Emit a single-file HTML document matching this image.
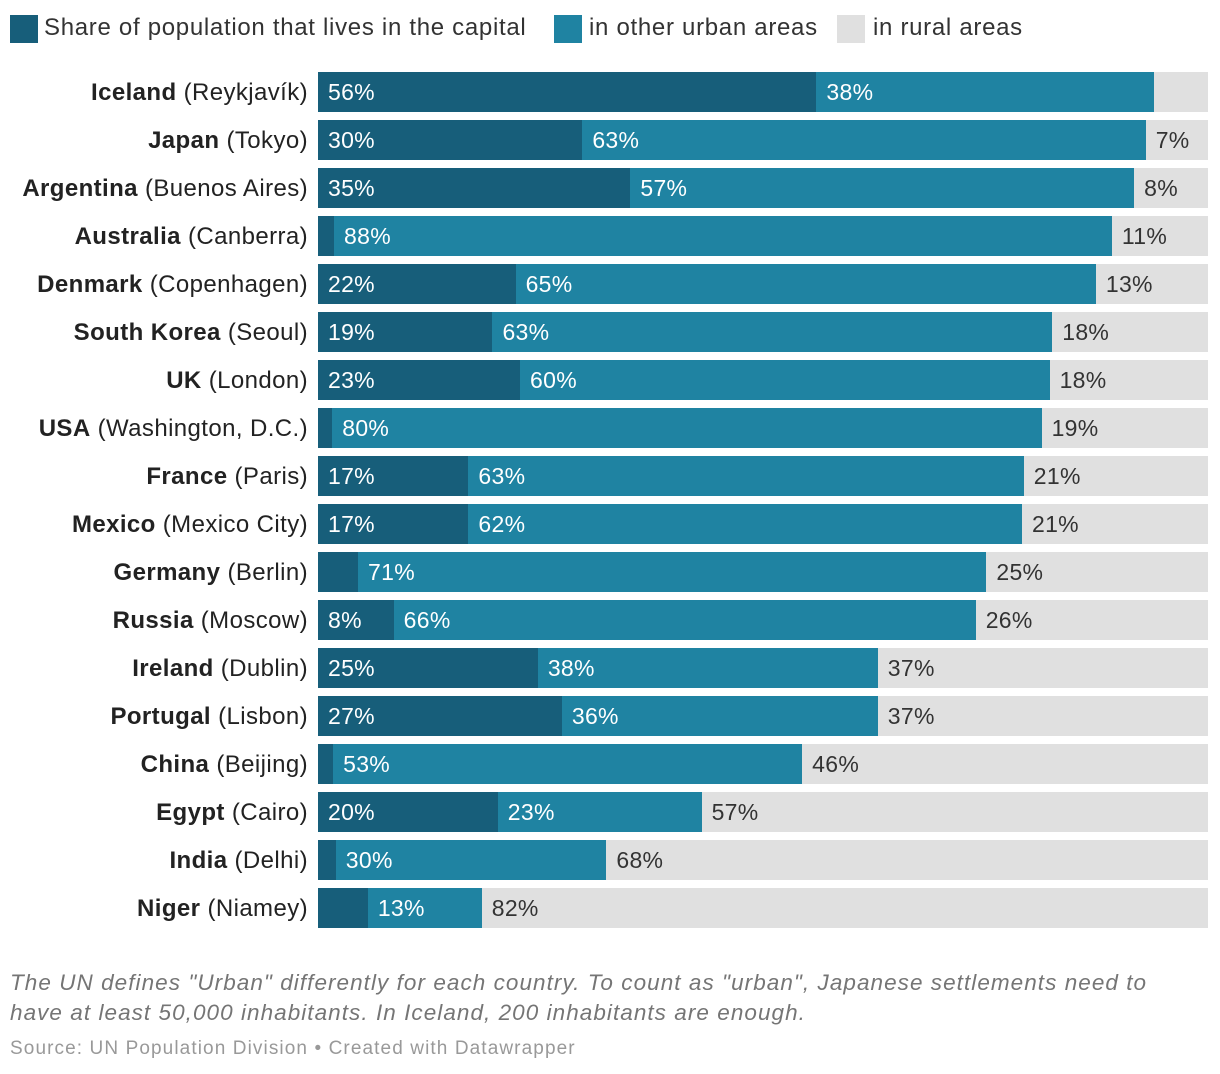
<!DOCTYPE html>
<html><head><meta charset="utf-8">
<style>
body{margin:0;width:1220px;height:1074px;background:#fff;font-family:"Liberation Sans",Arial,sans-serif;overflow:hidden;position:relative}
.leg{position:absolute;top:13px;height:30px;font-size:24px;letter-spacing:0.7px;color:#333;line-height:30px}
.sw{position:absolute;top:15px;width:28px;height:28px}
.row{position:absolute;left:0;width:1220px;height:40px}
.lbl{position:absolute;right:912px;top:1px;line-height:40px;font-size:24px;letter-spacing:0.4px;color:#222;white-space:nowrap}
.seg{position:absolute;top:0;height:40px}
.val{position:absolute;top:0;line-height:40px;font-size:23px;letter-spacing:0.3px;white-space:nowrap}
.note{position:absolute;left:10px;font-size:22.5px;letter-spacing:1.05px;font-style:italic;color:#757575;line-height:30px;white-space:nowrap}
</style></head><body>
<div class="sw" style="left:10px;background:#175e7a"></div>
<div class="leg" style="left:44px">Share of population that lives in the capital</div>
<div class="sw" style="left:554px;background:#1f83a2"></div>
<div class="leg" style="left:589px">in other urban areas</div>
<div class="sw" style="left:837px;background:#e0e0e0"></div>
<div class="leg" style="left:873px">in rural areas</div>
<div id="chart"></div>
<div class="note" style="top:968px">The UN defines "Urban" differently for each country. To count as "urban", Japanese settlements need to<br>have at least 50,000 inhabitants. In Iceland, 200 inhabitants are enough.</div>
<div style="position:absolute;left:10px;top:1038px;font-size:19px;letter-spacing:1.1px;color:#999;white-space:nowrap">Source: UN Population Division • Created with Datawrapper</div>
<script>
const countries=["Iceland","Japan","Argentina","Australia","Denmark","South Korea","UK","USA","France","Mexico","Germany","Russia","Ireland","Portugal","China","Egypt","India","Niger"];
const capitals=["Reykjavík","Tokyo","Buenos Aires","Canberra","Copenhagen","Seoul","London","Washington, D.C.","Paris","Mexico City","Berlin","Moscow","Dublin","Lisbon","Beijing","Cairo","Delhi","Niamey"];
const capitalShare=[56,29.7,35.1,1.8,22.2,19.6,22.7,1.6,16.9,16.9,4.5,8.5,24.7,27.4,1.7,20.2,2,5.6];
const urbanShare=[37.9,63.3,56.6,87.4,65.2,62.9,59.5,79.7,62.4,62.2,70.6,65.4,38.2,35.5,52.7,22.9,30.4,12.8];
const ruralShare=[6,7,8,11,13,18,18,19,21,21,25,26,37,37,46,57,68,82];
const capitalLabels=["56%","30%","35%","","22%","19%","23%","","17%","17%","","8%","25%","27%","","20%","",""];
const urbanLabels=["38%","63%","57%","88%","65%","63%","60%","80%","63%","62%","71%","66%","38%","36%","53%","23%","30%","13%"];
const ruralLabels=["","7%","8%","11%","13%","18%","18%","19%","21%","21%","25%","26%","37%","37%","46%","57%","68%","82%"];
const X0=318,W=890;
const xs=v=>X0+v/100*W;
const chart=document.getElementById('chart');
countries.forEach((c,i)=>{
  const r=document.createElement('div');r.className='row';r.style.top=(72+48*i)+'px';
  
  
  const l=document.createElement('div');l.className='lbl';
  l.innerHTML='<b>'+c+'</b> ('+capitals[i]+')';
  
  
  r.appendChild(l);
  const bg=document.createElement('div');bg.className='seg';bg.style.left=X0+'px';bg.style.width=W+'px';bg.style.background='#e0e0e0';
  
  
  r.appendChild(bg);
  const a=capitalShare[i],b=urbanShare[i];
  const s1=document.createElement('div');s1.className='seg';s1.style.left=X0+'px';s1.style.width=(xs(a)-X0)+'px';s1.style.background='#175e7a';
  
  
  r.appendChild(s1);
  const s2=document.createElement('div');s2.className='seg';s2.style.left=xs(a)+'px';s2.style.width=(xs(a+b)-xs(a))+'px';s2.style.background='#1f83a2';
  
  
  r.appendChild(s2);
  const addVal=(x,t,col)=>{if(!t)return;const v=document.createElement('div');v.className='val';v.style.left=x+'px';v.style.color=col;v.textContent=t;
    
    
    r.appendChild(v);};
  addVal(X0+10,capitalLabels[i],'#fff');
  addVal(xs(a)+10,urbanLabels[i],'#fff');
  addVal(xs(a+b)+10,ruralLabels[i],'#333');
  chart.appendChild(r);
});
</script>
</body></html>
